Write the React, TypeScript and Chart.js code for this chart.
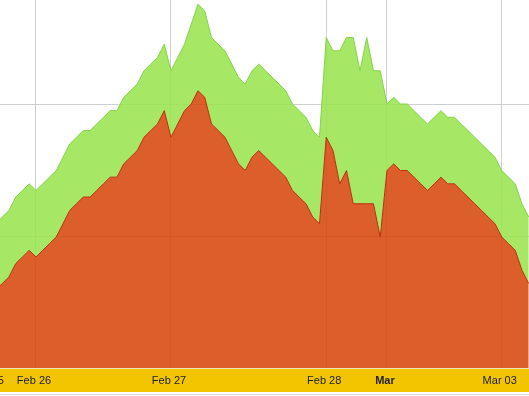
import React, { useEffect, useRef } from "react";
import { Chart, registerables } from "chart.js";

Chart.register(...registerables);

// Sample values (one per time step), oldest first
const upperValues = [
  110, 115, 120, 130, 135, 140, 135, 140, 145, 150, 160, 170, 175, 180, 180, 185, 190, 195, 195, 205,
  210, 215, 225, 230, 235, 245, 225, 235, 245, 260, 275, 270, 250, 245, 240, 230, 220, 215, 225, 230,
  225, 220, 215, 210, 200, 195, 190, 180, 175, 250, 240, 240, 250, 250, 225, 250, 225, 225, 200, 205,
  200, 200, 195, 190, 185, 190, 195, 190, 190, 185, 180, 175, 170, 165, 160, 150, 145, 140, 125, 115,
];
const lowerValues = [
  60, 65, 70, 80, 85, 90, 85, 90, 95, 100, 110, 120, 125, 130, 130, 135, 140, 145, 145, 155,
  160, 165, 175, 180, 185, 195, 175, 185, 195, 200, 210, 205, 185, 180, 175, 165, 155, 150, 160, 165,
  160, 155, 150, 145, 135, 130, 125, 115, 110, 175, 165, 140, 150, 125, 125, 125, 125, 100, 150, 155,
  150, 150, 145, 140, 135, 140, 145, 140, 140, 135, 130, 125, 120, 115, 110, 100, 95, 90, 75, 65,
];

// Day boundaries (sample index) and their labels
const dayTickPositions = [-1, 6, 26, 49, 58, 75];
const dayTickLabels = ["Feb 25", "Feb 26", "Feb 27", "Feb 28", "Mar", "Mar 03"];
const boldLabels = ["Mar"];

const yGridValues = [100, 200];

const bandPlugin = {
  id: "band",
  beforeDraw(chart: any) {
    const { ctx, width, chartArea } = chart;
    ctx.save();
    ctx.fillStyle = "#ffffff";
    ctx.fillRect(0, 0, width, chart.height);
    const top = chartArea.bottom;
    ctx.fillStyle = "rgb(243,196,0)";
    ctx.fillRect(0, top + 1, width, 23);
    ctx.fillStyle = "rgba(236,226,190,1)";
    ctx.fillRect(0, top, width, 1);
    ctx.fillStyle = "#dcdcdc";
    ctx.fillRect(0, top + 26, width, 1);
    ctx.restore();
  },
};

export default function App() {
  const ref = useRef<HTMLCanvasElement | null>(null);

  useEffect(() => {
    if (!ref.current) return;
    const toPoints = (arr: number[]) => arr.map((v, i) => ({ x: i, y: v }));
    const chart = new Chart(ref.current, {
      type: "line",
      data: {
        datasets: [
          {
            label: "lower",
            data: toPoints(lowerValues),
            borderColor: "#b8320c",
            borderWidth: 1,
            backgroundColor: "rgba(215,72,13,0.88)",
            fill: "origin",
            pointRadius: 0,
            tension: 0,
          },
          {
            label: "upper",
            data: toPoints(upperValues),
            borderColor: "#86d24a",
            borderWidth: 1,
            backgroundColor: "rgba(154,229,81,0.88)",
            fill: "-1",
            pointRadius: 0,
            tension: 0,
          },
        ],
      },
      plugins: [bandPlugin],
      options: {
        animation: false,
        responsive: false,
        events: [],
        layout: { padding: 0, autoPadding: false },
        plugins: { legend: { display: false }, tooltip: { enabled: false } },
        scales: {
          x: {
            type: "linear",
            min: -3.777,
            max: 79.04,
            afterBuildTicks(scale: any) {
              scale.ticks = dayTickPositions.map((v) => ({ value: v }));
            },
            afterFit(scale: any) {
              scale.height = 28;
              scale.paddingLeft = 0;
              scale.paddingRight = 0;
            },
            grid: { color: "#cfcfcf", drawTicks: false, lineWidth: 1 },
            border: { display: false },
            ticks: {
              autoSkip: false,
              maxRotation: 0,
              minRotation: 0,
              padding: 6,
              labelOffset: -2,
              color: "#222222",
              font: (ctx: any) => ({
                family: "'Liberation Sans', Arial, sans-serif",
                size: 11,
                weight: ctx.tick && boldLabels.includes(ctx.tick.label) ? "bold" : "normal",
              }),
              callback: (_v: any, i: number) => dayTickLabels[i],
            },
          },
          y: {
            type: "linear",
            min: 1.5,
            max: 278.2,
            afterBuildTicks(scale: any) {
              scale.ticks = yGridValues.map((v) => ({ value: v }));
            },
            afterFit(scale: any) {
              scale.width = 0;
              scale.paddingTop = 0;
              scale.paddingBottom = 0;
            },
            grid: { color: "#cfcfcf", drawTicks: false, lineWidth: 1 },
            border: { display: false },
            ticks: { display: false },
          },
        },
      },
    });
    return () => chart.destroy();
  }, []);

  return (
    <canvas
      ref={ref}
      width={559}
      height={396}
      style={{ position: "absolute", left: -30, top: 0, display: "block" }}
    />
  );
}
